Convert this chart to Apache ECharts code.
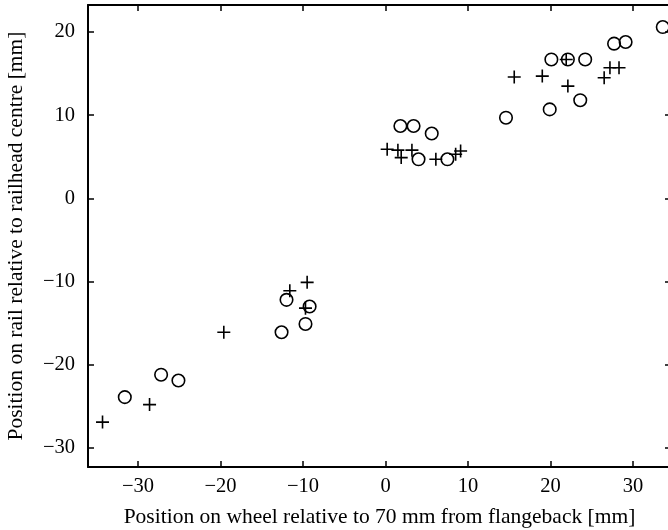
<!DOCTYPE html>
<html><head><meta charset="utf-8">
<script src="https://cdn.jsdelivr.net/npm/echarts@6/dist/echarts.min.js"></script>
<style>html,body{margin:0;padding:0;background:#fff}#c{width:668px;height:530px}</style>
</head><body><div id="c"></div>
<script>
var circlePoints = [
  [-31.6,-23.9],[-27.2,-21.2],[-25.1,-21.9],
  [-12.6,-16.1],[-12.0,-12.2],[-9.2,-13.0],[-9.7,-15.1],
  [1.8,8.7],[3.4,8.7],[5.6,7.8],[4.0,4.7],[7.5,4.7],
  [14.6,9.7],[19.9,10.7],[23.6,11.8],
  [20.1,16.7],[22.1,16.7],[24.2,16.7],[27.7,18.6],[29.1,18.8],[33.6,20.6]
];
var plusPoints = [
  [-34.3,-26.9],[-28.6,-24.8],[-19.6,-16.1],
  [-11.6,-11.1],[-9.5,-10.1],[-9.7,-13.2],
  [0.2,5.9],[1.5,5.8],[1.9,4.9],[3.2,5.8],[6.1,4.7],[8.5,5.3],[9.1,5.7],
  [15.6,14.6],[19.0,14.7],[21.9,16.7],[22.1,13.5],[26.5,14.5],[27.2,15.7],[28.3,15.7]
];
var xTicks = [-30,-20,-10,0,10,20,30];
var yTicks = [-30,-20,-10,0,10,20];
var xTitle = 'Position on wheel relative to 70 mm from flangeback [mm]';
var yTitle = 'Position on rail relative to railhead centre [mm]';

var font = 'Liberation Serif';
var chart = echarts.init(document.getElementById('c'));
var lineStyle = {color:'#000',width:2};
var tickStyle = {color:'#000',width:1.5};
function fmt(v){return v<0?'\u2212'+(-v):String(v);}
var xMin=-36.06, xMax=34.6, yMin=-32.3, yMax=23.25;
chart.setOption({
  animation:false,
  backgroundColor:'#fff',
  grid:{left:88,top:5,width:583,height:462,containLabel:false,outerBoundsMode:'none'},
  xAxis:[
    {type:'value',position:'bottom',min:xMin,max:xMax,
      axisLine:{show:true,onZero:false,lineStyle:lineStyle},splitLine:{show:false},
      name:xTitle,nameLocation:'middle',nameGap:39,
      nameTextStyle:{fontFamily:font,fontSize:21.5,color:'#000'},
      axisTick:{show:true,inside:true,length:6,customValues:xTicks,lineStyle:tickStyle},
      axisLabel:{show:true,customValues:xTicks,margin:9,fontFamily:font,fontSize:20.5,color:'#000',formatter:fmt}},
    {type:'value',position:'top',min:xMin,max:xMax,
      axisLine:{show:true,onZero:false,lineStyle:lineStyle},splitLine:{show:false},
      axisTick:{show:true,inside:true,length:6,customValues:xTicks,lineStyle:tickStyle},
      axisLabel:{show:false}}
  ],
  yAxis:[
    {type:'value',position:'left',min:yMin,max:yMax,
      axisLine:{show:true,onZero:false,lineStyle:lineStyle},splitLine:{show:false},
      name:yTitle,nameLocation:'middle',nameGap:61,nameRotate:90,
      nameTextStyle:{fontFamily:font,fontSize:21.5,color:'#000'},
      axisTick:{show:true,inside:true,length:6,customValues:yTicks,lineStyle:tickStyle},
      axisLabel:{show:true,customValues:yTicks,margin:13,fontFamily:font,fontSize:20.5,color:'#000',formatter:fmt}},
    {type:'value',position:'right',min:yMin,max:yMax,
      axisLine:{show:true,onZero:false,lineStyle:lineStyle},splitLine:{show:false},
      axisTick:{show:true,inside:true,length:6,customValues:yTicks,lineStyle:tickStyle},
      axisLabel:{show:false}}
  ],
  series:[
    {type:'scatter',xAxisIndex:0,yAxisIndex:0,data:circlePoints,symbol:'circle',symbolSize:12.5,
      itemStyle:{color:'rgba(255,255,255,0)',borderColor:'#000',borderWidth:1.6,opacity:1}},
    {type:'scatter',xAxisIndex:0,yAxisIndex:0,data:plusPoints,symbol:'path://M0,-1L0,1M-1,0L1,0',symbolSize:13,
      itemStyle:{color:'none',borderColor:'#000',borderWidth:1.6,opacity:1}}
  ]
});
</script></body></html>
